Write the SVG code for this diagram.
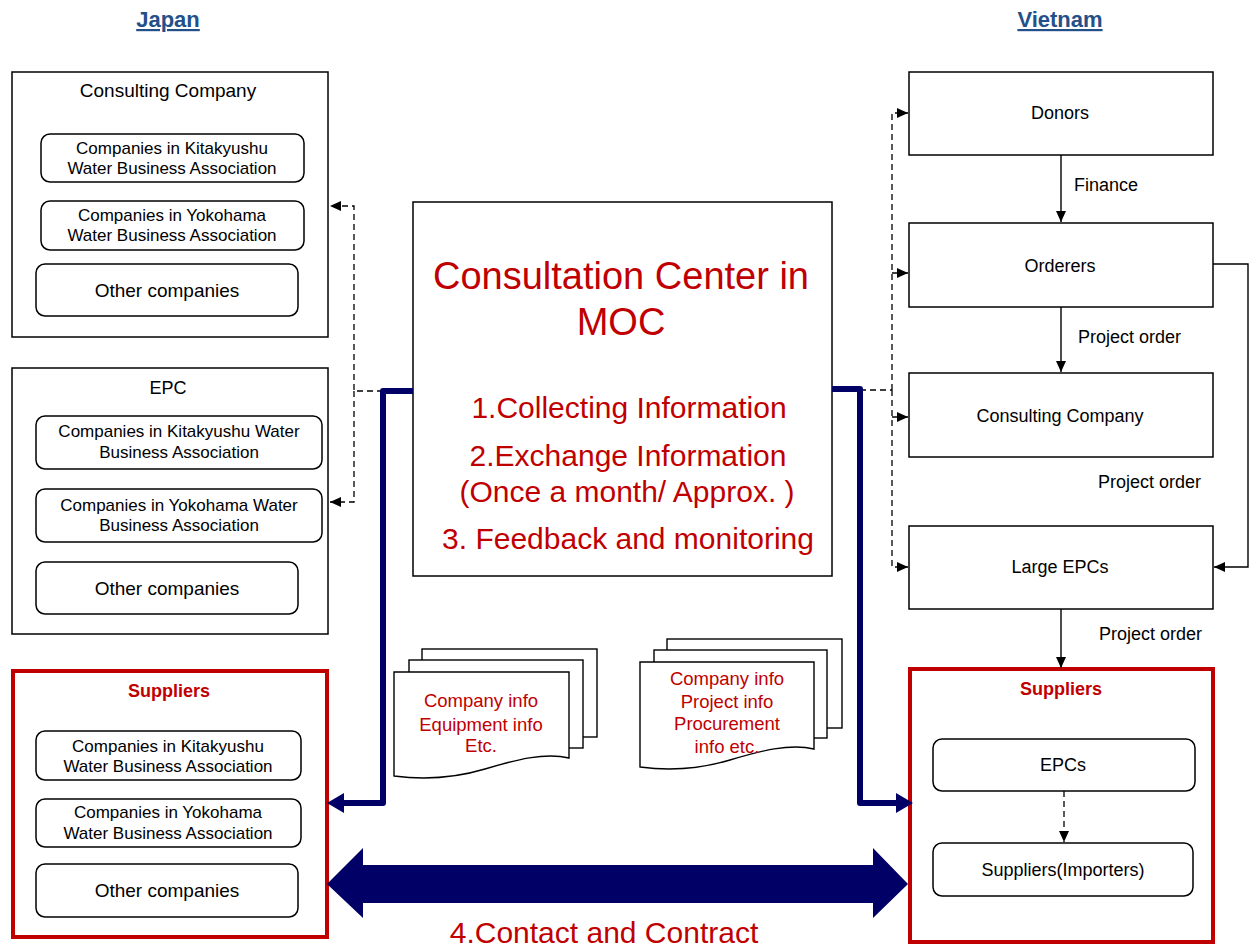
<svg xmlns="http://www.w3.org/2000/svg" width="1251" height="950" viewBox="0 0 1251 950">
<defs>
<style>
text{font-family:"Liberation Sans",Arial,sans-serif;fill:#000;text-anchor:middle}
.hdr{font-size:22px;font-weight:bold;fill:#24508A;text-decoration:underline}
.box{fill:#fff;stroke:#000;stroke-width:1.5}
.rbox{fill:#fff;stroke:#C00000;stroke-width:4}
.rr{fill:#fff;stroke:#000;stroke-width:1.5}
.t19{font-size:19px}
.t17{font-size:17px}
.t18{font-size:18px}
.red{fill:#C00000}
.sup{font-size:18px;font-weight:bold;fill:#C00000}
.big{font-size:38px;fill:#C00000}
.item{font-size:30px;fill:#C00000}
.doc{font-size:18.5px;fill:#C00000}
.lbl{font-size:18px;text-anchor:start}
.dash{fill:none;stroke:#000;stroke-width:1.3;stroke-dasharray:6,4}
.solid{fill:none;stroke:#000;stroke-width:1.4}
.navy{fill:none;stroke:#000066;stroke-width:6;stroke-linejoin:round}
.sheet{fill:#fff;stroke:#000;stroke-width:1.4}
</style>
<marker id="ah" markerUnits="userSpaceOnUse" markerWidth="11" markerHeight="10" refX="11" refY="5" orient="auto">
<path d="M0,0 L11,5 L0,10 z" fill="#000"/>
</marker>
<marker id="nh" markerUnits="userSpaceOnUse" markerWidth="17" markerHeight="20" refX="4" refY="10" orient="auto">
<path d="M0,0 L17,10 L0,20 z" fill="#000066"/>
</marker>
</defs>

<text class="hdr" x="168" y="27">Japan</text>
<text class="hdr" x="1060" y="27">Vietnam</text>

<g id="jp-consulting">
<rect class="box" x="12" y="72" width="316" height="265"/>
<text class="t19" x="168" y="97">Consulting Company</text>
<rect class="rr" x="41" y="134" width="263" height="48" rx="9"/>
<text class="t17" x="172" y="154">Companies in Kitakyushu</text>
<text class="t17" x="172" y="174">Water Business Association</text>
<rect class="rr" x="41" y="201" width="263" height="49" rx="9"/>
<text class="t17" x="172" y="221">Companies in Yokohama</text>
<text class="t17" x="172" y="241">Water Business Association</text>
<rect class="rr" x="36" y="264" width="262" height="52" rx="9"/>
<text class="t19" x="167" y="297">Other companies</text>
</g>

<g id="jp-epc">
<rect class="box" x="12" y="368" width="316" height="266"/>
<text class="t18" x="168" y="394">EPC</text>
<rect class="rr" x="36" y="416" width="286" height="53" rx="9"/>
<text class="t17" x="179" y="437">Companies in Kitakyushu Water</text>
<text class="t17" x="179" y="458">Business Association</text>
<rect class="rr" x="36" y="489" width="286" height="53" rx="9"/>
<text class="t17" x="179" y="511">Companies in Yokohama Water</text>
<text class="t17" x="179" y="531">Business Association</text>
<rect class="rr" x="36" y="562" width="262" height="52" rx="9"/>
<text class="t19" x="167" y="595">Other companies</text>
</g>

<g id="jp-suppliers">
<rect class="rbox" x="13" y="671" width="314" height="266"/>
<text class="sup" x="169" y="697">Suppliers</text>
<rect class="rr" x="36" y="731" width="265" height="49" rx="9"/>
<text class="t17" x="168" y="752">Companies in Kitakyushu</text>
<text class="t17" x="168" y="772">Water Business Association</text>
<rect class="rr" x="36" y="799" width="265" height="48" rx="9"/>
<text class="t17" x="168" y="818">Companies in Yokohama</text>
<text class="t17" x="168" y="839">Water Business Association</text>
<rect class="rr" x="36" y="864" width="262" height="53" rx="9"/>
<text class="t19" x="167" y="897">Other companies</text>
</g>

<g id="center">
<rect class="box" x="413" y="202" width="419" height="374"/>
<text class="big" x="621" y="289">Consultation Center in</text>
<text class="big" x="621" y="335">MOC</text>
<text class="item" x="629" y="418">1.Collecting Information</text>
<text class="item" x="628" y="466">2.Exchange Information</text>
<text class="item" x="627" y="502">(Once a month/ Approx. )</text>
<text class="item" x="628" y="549">3. Feedback and monitoring</text>
</g>

<g id="doc-left">
<rect class="sheet" x="422" y="649" width="175" height="88"/>
<rect class="sheet" x="409" y="660" width="174" height="88"/>
<path class="sheet" d="M394,672 H569 V758 C545,752 515,760 485,769 C455,778 425,780 394,776 Z"/>
<text class="doc" x="481" y="707">Company info</text>
<text class="doc" x="481" y="731">Equipment info</text>
<text class="doc" x="481" y="752">Etc.</text>
</g>

<g id="doc-right">
<rect class="sheet" x="667" y="639" width="175" height="89"/>
<rect class="sheet" x="654" y="650" width="173" height="88"/>
<path class="sheet" d="M640,662 H814 V749 C790,743 760,751 730,760 C700,769 670,771 640,767 Z"/>
<text class="doc" x="727" y="685">Company info</text>
<text class="doc" x="727" y="708">Project info</text>
<text class="doc" x="727" y="730">Procurement</text>
<text class="doc" x="727" y="753">info etc.</text>
</g>

<g id="vn-donors">
<rect class="box" x="909" y="72" width="304" height="83"/>
<text class="t18" x="1060" y="119">Donors</text>
</g>
<g id="vn-orderers">
<rect class="box" x="909" y="223" width="304" height="84"/>
<text class="t18" x="1060" y="272">Orderers</text>
</g>
<g id="vn-consulting">
<rect class="box" x="909" y="373" width="304" height="84"/>
<text class="t18" x="1060" y="422">Consulting Company</text>
</g>
<g id="vn-large-epcs">
<rect class="box" x="909" y="526" width="304" height="83"/>
<text class="t18" x="1060" y="573">Large EPCs</text>
</g>

<g id="vn-suppliers">
<rect class="rbox" x="910" y="669" width="303" height="273"/>
<text class="sup" x="1061" y="695">Suppliers</text>
<rect class="rr" x="933" y="739" width="262" height="52" rx="9"/>
<text class="t18" x="1063" y="771">EPCs</text>
<rect class="rr" x="933" y="843" width="260" height="53" rx="9"/>
<text class="t18" x="1063" y="876">Suppliers(Importers)</text>
</g>

<g id="connectors">
<!-- left dashed -->
<path class="dash" d="M383,391 H354 V206 H330" marker-end="url(#ah)"/>
<path class="dash" d="M354,391 V502 H330" marker-end="url(#ah)"/>
<!-- right dashed -->
<path class="dash" d="M860,390 H892"/>
<path class="dash" d="M892,390 V113 H908" marker-end="url(#ah)"/>
<path class="dash" d="M892,273 H908" marker-end="url(#ah)"/>
<path class="dash" d="M892,390 V567 H908" marker-end="url(#ah)"/>
<path class="dash" d="M892,417 H908" marker-end="url(#ah)"/>
<!-- navy -->
<path class="navy" d="M413,391 H383 V803 H340" marker-end="url(#nh)"/>
<path class="navy" d="M832,389 H860 V803 H900" marker-end="url(#nh)"/>
<!-- solid black -->
<path class="solid" d="M1061,155 V222" marker-end="url(#ah)"/>
<path class="solid" d="M1061,307 V372" marker-end="url(#ah)"/>
<path class="solid" d="M1213,264 H1248 V567 H1214" marker-end="url(#ah)"/>
<path class="solid" d="M1061,609 V668" marker-end="url(#ah)"/>
<path class="dash" d="M1064,791 V842" marker-end="url(#ah)"/>
<!-- big double arrow -->
<polygon points="327,884 363,848 363,865 873,865 873,848 908,884 873,918 873,903 363,903 363,918" fill="#000066"/>
<text class="lbl" x="1074" y="191">Finance</text>
<text class="lbl" x="1078" y="343">Project order</text>
<text class="lbl" x="1098" y="488">Project order</text>
<text class="lbl" x="1099" y="640">Project order</text>
<text class="item" x="604" y="943">4.Contact and Contract</text>
</g>
</svg>
